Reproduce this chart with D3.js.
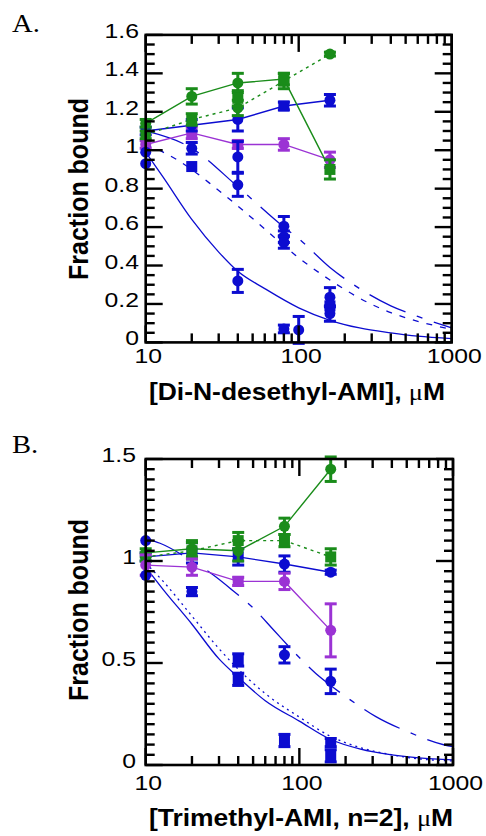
<!DOCTYPE html>
<html>
<head>
<meta charset="utf-8">
<script src="https://cdn.jsdelivr.net/npm/d3@7"></script>
<style>
body { margin: 0; background: #fff; }
</style>
</head>
<body>
<script>
// ---- data ----
var conc = [10, 20, 40, 80, 160];
var xTickVals = [10, 100, 1000];

// panel A : Di-N-desethyl-AMI
var aGreenSolid = [1.14, 1.28, 1.35, 1.37, 0.90];
var aGreenSolidErr = [0.02, 0.04, 0.05, 0.03, 0.05];
var aGreenDot = [1.08, 1.16, 1.22, 1.36, 1.50];
var aGreenDotErr = [0.02, 0.03, 0.04, 0.04, 0.01];
var aBlueSolid = [1.10, 1.13, 1.16, 1.23, 1.26];
var aBlueSolidErr = [0.02, 0.03, 0.06, 0.02, 0.03];
var aMagenta = [1.03, 1.09, 1.03, 1.03, 0.95];
var aMagentaErr = [0.02, 0.03, 0.02, 0.03, 0.04];
// loose points: [conc, value, err, shape]
var aBluePts = [[10, 0.93, 0, "c"], [10, 0.99, 0, "c"], [20, 1.01, 0.03, "c"], [20, 0.915, 0, "s"],
  [40, 0.965, 0.08, "c"], [40, 0.82, 0.06, "c"], [40, 0.32, 0.06, "c"],
  [80, 0.605, 0.05, "c"], [80, 0.55, 0.03, "c"], [80, 0.52, 0.03, "c"], [80, 0.07, 0.02, "c"],
  [100, 0.065, 0.07, "c"], [160, 0.235, 0.05, "c"], [160, 0.19, 0, "s"], [160, 0.15, 0.04, "c"]];
var aGreenPts = [[40, 1.27, 0.04, "s"]];
// fitted curves
var aFit1X = [10, 13, 20, 30, 40, 60, 100, 160, 250, 400, 600, 1000];
var aFit1 = [0.99, 0.86, 0.64, 0.47, 0.37, 0.28, 0.18, 0.115, 0.075, 0.05, 0.033, 0.02];
var aFit2X = [10, 20, 40, 80, 100, 160, 250, 400, 600, 1000];
var aFit2 = [1.10, 1.01, 0.81, 0.60, 0.54, 0.39, 0.28, 0.19, 0.135, 0.075];
var aFit3X = [10, 13, 20, 26, 40, 60, 100, 160, 250, 400, 600, 1000];
var aFit3 = [1.03, 0.99, 0.90, 0.83, 0.71, 0.59, 0.44, 0.325, 0.23, 0.155, 0.11, 0.068];

// panel B : Trimethyl-AMI, n=2
var bGreenSolid = [1.04, 1.06, 1.05, 1.17, 1.45];
var bGreenSolidErr = [0.02, 0.04, 0.05, 0.04, 0.06];
var bGreenDot = [1.02, 1.05, 1.10, 1.10, 1.02];
var bGreenDotErr = [0.02, 0.04, 0.04, 0.03, 0.04];
var bBlueSolid = [1.02, 1.04, 1.02, 0.985, 0.945];
var bBlueSolidErr = [0.02, 0.05, 0.04, 0.04, 0.01];
var bMagenta = [0.98, 0.97, 0.90, 0.90, 0.66];
var bMagentaErr = [0.05, 0.04, 0.02, 0.04, 0.13];
var bBluePts = [[10, 1.10, 0, "c"], [10, 0.93, 0, "c"], [20, 0.85, 0.02, "c"],
  [40, 0.515, 0.03, "s"], [40, 0.42, 0.03, "s"], [80, 0.54, 0.04, "c"], [80, 0.12, 0.03, "s"],
  [160, 0.41, 0.06, "c"], [160, 0.11, 0.02, "s"], [160, 0.045, 0.03, "s"]];
var bGreenPts = [];
var bFit1X = [10, 13, 20, 30, 40, 60, 100, 160, 250, 400, 600, 1000];
var bFit1 = [0.97, 0.86, 0.69, 0.52, 0.43, 0.315, 0.215, 0.125, 0.078, 0.05, 0.035, 0.025];
var bFit2X = [10, 13, 20, 30, 40, 60, 100, 160, 250, 400, 600, 1000];
var bFit2 = [0.99, 0.90, 0.73, 0.57, 0.47, 0.35, 0.235, 0.14, 0.085, 0.05, 0.03, 0.02];
var bFit3X = [10, 12.4, 20, 27.7, 36.5, 50, 68, 92, 128, 160, 240, 315, 508, 881, 1000];
var bFit3 = [1.11, 1.087, 1.0, 0.93, 0.858, 0.77, 0.662, 0.555, 0.449, 0.39, 0.294, 0.237, 0.163, 0.098, 0.09];

var BLUE = "#0c0cd0", GREEN = "#1a8c1a", MAG = "#9b33d4";

var svg = d3.select("body").append("svg")
  .attr("width", 486)
  .attr("height", 836);

function drawPanel(p) {
  var x = d3.scaleLog().domain([10, 1000]).range([p.left, p.right]);
  var y = d3.scaleLinear().domain(p.yDomain).range([p.bottom, p.top]);
  var g = svg.append("g");

  // panel letter
  g.append("text")
    .attr("transform", "translate(" + p.letterX + "," + p.letterY + ") scale(1.1,1)")
    .attr("font-family", "Liberation Serif, Times New Roman, serif")
    .attr("font-size", 26)
    .text(p.letter);

  // fitted curves
  var fitLine = d3.line()
    .x(function (d) { return x(d[0]); })
    .y(function (d) { return y(d[1]); })
    .curve(d3.curveMonotoneX);
  p.fits.forEach(function (f) {
    g.append("path")
      .datum(d3.zip(f.x, f.y))
      .attr("d", fitLine)
      .attr("fill", "none")
      .attr("stroke", BLUE)
      .attr("stroke-width", 1.3)
      .attr("stroke-dasharray", f.dash);
  });

  // connected series
  var segLine = d3.line()
    .x(function (d) { return x(d[0]); })
    .y(function (d) { return y(d[1]); });
  p.series.forEach(function (s) {
    g.append("path")
      .datum(d3.zip(conc, s.y))
      .attr("d", segLine)
      .attr("fill", "none")
      .attr("stroke", s.color)
      .attr("stroke-width", 1.4)
      .attr("stroke-dasharray", s.dash);
  });

  // all markers with error bars
  var pts = [];
  p.series.forEach(function (s) {
    conc.forEach(function (c, i) {
      pts.push({ c: c, v: s.y[i], e: s.err[i], shape: s.shape[i], color: s.color });
    });
  });
  p.loose.forEach(function (l) {
    l.pts.forEach(function (d) {
      pts.push({ c: d[0], v: d[1], e: d[2], shape: d[3], color: l.color });
    });
  });

  pts.forEach(function (d) {
    var cx = x(d.c), cy = y(d.v);
    if (d.e > 0) {
      var y1 = y(d.v + d.e), y2 = y(d.v - d.e);
      g.append("line").attr("x1", cx).attr("x2", cx).attr("y1", y1).attr("y2", y2)
        .attr("stroke", d.color).attr("stroke-width", 3);
      [y1, y2].forEach(function (yy) {
        g.append("line").attr("x1", cx - 6).attr("x2", cx + 6).attr("y1", yy).attr("y2", yy)
          .attr("stroke", d.color).attr("stroke-width", 3);
      });
    }
    if (d.shape === "s") {
      g.append("rect").attr("x", cx - 5.5).attr("y", cy - 5.5)
        .attr("width", 11).attr("height", 11).attr("fill", d.color);
    } else {
      g.append("circle").attr("cx", cx).attr("cy", cy).attr("r", 5.5).attr("fill", d.color);
    }
  });

  // frame
  g.append("rect")
    .attr("x", p.left).attr("y", p.top)
    .attr("width", p.right - p.left).attr("height", p.bottom - p.top)
    .attr("fill", "none").attr("stroke", "#000").attr("stroke-width", 2.6);

  // y ticks (inward, both sides)
  var yMinor = d3.range(p.yDomain[0], p.yDomain[1] + 1e-9, 0.05);
  yMinor.forEach(function (v) {
    var major = Math.abs(v / p.yMajor - Math.round(v / p.yMajor)) < 1e-6;
    var len = major ? 17 : 9;
    var yy = y(v);
    g.append("line").attr("x1", p.left).attr("x2", p.left + len).attr("y1", yy).attr("y2", yy)
      .attr("stroke", "#000").attr("stroke-width", 2.4);
    g.append("line").attr("x1", p.right).attr("x2", p.right - len).attr("y1", yy).attr("y2", yy)
      .attr("stroke", "#000").attr("stroke-width", 2.4);
    if (major) {
      g.append("text")
        .attr("transform", "translate(" + p.yLabelX + "," + (yy + 3) + ") scale(1.18,1)")
        .attr("text-anchor", "end")
        .attr("font-family", "Liberation Sans, Arial, Helvetica, sans-serif")
        .attr("font-size", 21)
        .text(String(+v.toFixed(1)));
    }
  });

  // x ticks (inward, top and bottom)
  var xMinor = [];
  [10, 100].forEach(function (dec) {
    d3.range(2, 10).forEach(function (m) { xMinor.push(dec * m); });
  });
  xMinor.concat(xTickVals).forEach(function (v) {
    var major = xTickVals.indexOf(v) >= 0;
    var len = major ? 17 : 9;
    var xx = x(v);
    g.append("line").attr("x1", xx).attr("x2", xx).attr("y1", p.bottom).attr("y2", p.bottom - len)
      .attr("stroke", "#000").attr("stroke-width", 2.4);
    g.append("line").attr("x1", xx).attr("x2", xx).attr("y1", p.top).attr("y2", p.top + len)
      .attr("stroke", "#000").attr("stroke-width", 2.4);
  });
  xTickVals.forEach(function (v) {
    g.append("text")
      .attr("transform", "translate(" + (x(v) + 2.5) + "," + p.xLabelY + ") scale(1.18,1)")
      .attr("text-anchor", "middle")
      .attr("font-family", "Liberation Sans, Arial, Helvetica, sans-serif")
      .attr("font-size", 21)
      .text(v);
  });

  // axis titles
  g.append("text")
    .attr("transform", "translate(88," + p.yTitleY + ") rotate(-90) scale(1,1.1)")
    .attr("text-anchor", "middle")
    .attr("font-family", "Liberation Sans, Arial, Helvetica, sans-serif")
    .attr("font-weight", "bold")
    .attr("font-size", 25)
    .text("Fraction bound");

  var xt = g.append("text")
    .attr("transform", "translate(" + p.xTitleX + "," + p.xTitleY + ") scale(1.15,1)")
    .attr("text-anchor", "middle")
    .attr("font-family", "Liberation Sans, Arial, Helvetica, sans-serif")
    .attr("font-weight", "bold")
    .attr("font-size", 23);
  xt.append("tspan").text(p.xTitle + ", ");
  xt.append("tspan").attr("font-family", "Liberation Serif, Times New Roman, serif")
    .attr("font-weight", "normal").text("\u03bc");
  xt.append("tspan").text("M");
}

drawPanel({
  letter: "A.", letterX: 12, letterY: 32,
  left: 145.7, right: 451.7, top: 34.9, bottom: 342.4,
  yDomain: [0, 1.6], yMajor: 0.2, yLabelX: 139, xLabelY: 363,
  yTitleY: 189, xTitleX: 297, xTitleY: 400,
  xTitle: "[Di-N-desethyl-AMI]",
  fits: [
    { x: aFit1X, y: aFit1, dash: null },
    { x: aFit2X, y: aFit2, dash: "40,12,6,12" },
    { x: aFit3X, y: aFit3, dash: "6,8" }
  ],
  series: [
    { y: aMagenta, err: aMagentaErr, color: MAG, dash: null, shape: ["c", "s", "s", "c", "c"] },
    { y: aBlueSolid, err: aBlueSolidErr, color: BLUE, dash: null, shape: ["c", "c", "c", "s", "c"] },
    { y: aGreenDot, err: aGreenDotErr, color: GREEN, dash: "3,4", shape: ["c", "s", "c", "s", "c"] },
    { y: aGreenSolid, err: aGreenSolidErr, color: GREEN, dash: null, shape: ["c", "c", "c", "s", "s"] }
  ],
  loose: [{ pts: aBluePts, color: BLUE }, { pts: aGreenPts, color: GREEN }]
});

drawPanel({
  letter: "B.", letterX: 12, letterY: 453,
  left: 145.7, right: 453, top: 459, bottom: 765,
  yDomain: [0, 1.5], yMajor: 0.5, yLabelX: 136, xLabelY: 790,
  yTitleY: 610, xTitleX: 301, xTitleY: 826,
  xTitle: "[Trimethyl-AMI, n=2]",
  fits: [
    { x: bFit1X, y: bFit1, dash: null },
    { x: bFit2X, y: bFit2, dash: "2,4" },
    { x: bFit3X, y: bFit3, dash: "40,12,6,12" }
  ],
  series: [
    { y: bBlueSolid, err: bBlueSolidErr, color: BLUE, dash: null, shape: ["c", "s", "s", "c", "c"] },
    { y: bGreenDot, err: bGreenDotErr, color: GREEN, dash: "3,4", shape: ["c", "s", "s", "s", "s"] },
    { y: bGreenSolid, err: bGreenSolidErr, color: GREEN, dash: null, shape: ["c", "c", "c", "c", "c"] },
    { y: bMagenta, err: bMagentaErr, color: MAG, dash: null, shape: ["c", "c", "s", "c", "c"] }
  ],
  loose: [{ pts: bBluePts, color: BLUE }, { pts: bGreenPts, color: GREEN }]
});
</script>
</body>
</html>
